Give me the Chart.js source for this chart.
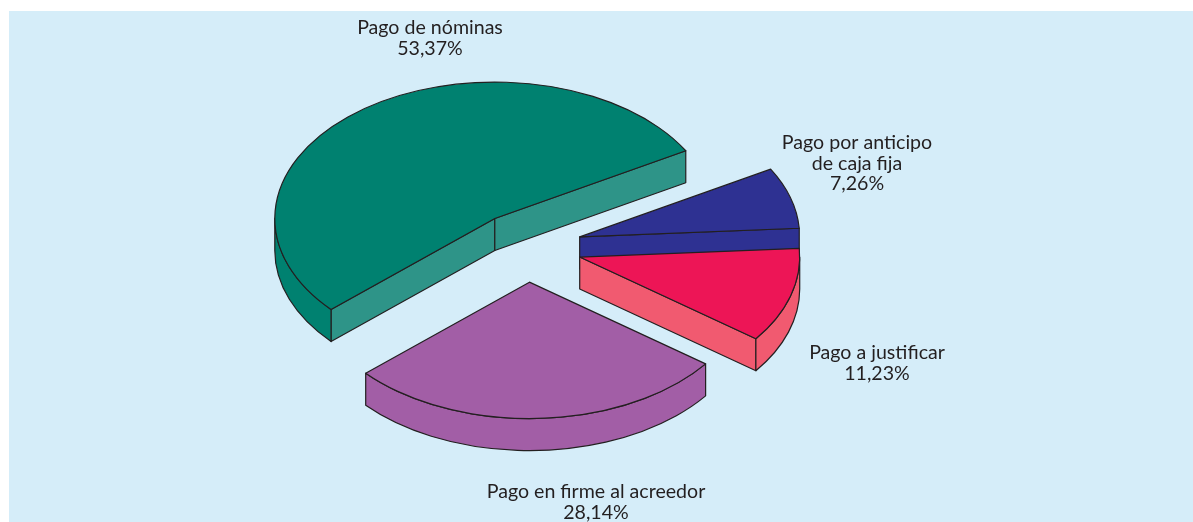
<!DOCTYPE html>
<html>
<head>
<meta charset="utf-8">
<script src="https://cdn.jsdelivr.net/npm/chart.js@4.4.1/dist/chart.umd.min.js"></script>
<style>
  body { margin: 0; background: #fff; }
  #wrap { position: relative; width: 1193px; height: 522px; overflow: hidden; }
  #bg { position: absolute; left: 9px; top: 11px; right: 0; bottom: 0; background: #d5edf9; }
  canvas { position: absolute; left: 0; top: 0; }
</style>
</head>
<body>
<div id="wrap">
  <div id="bg"></div>
  <canvas id="pie" width="1193" height="522"></canvas>
</div>
<script>
// data
const categories = ['Pago de nóminas', 'Pago por anticipo de caja fija', 'Pago a justificar', 'Pago en firme al acreedor'];
const shares = [53.37, 7.26, 11.23, 28.14];
// how each label is broken into lines
const labelLines = [['Pago de nóminas'], ['Pago por anticipo', 'de caja fija'], ['Pago a justificar'], ['Pago en firme al acreedor']];

// looks
const topColors = ['#008170', '#2e3192', '#ed1556', '#a25ea6'];
const wallColors = ['#2e9488', '#2e3192', '#f15a70', '#a25ea6'];
const rimColors = ['#008170', '#2e3192', '#f15a70', '#a25ea6'];
const labelPos = [[430, 34], [857, 149], [877, 359], [596, 498]];
const lineColor = '#231f20';
const squash = 0.62;   // ellipse height / width
const depth = 32;      // thickness of the pie in px
const explode = 55;    // how far slices are pulled out
const explodeY = 0.64; // vertical share of the pull

const pctText = v => v.toFixed(2).replace('.', ',') + '%';

const pie3d = {
  id: 'pie3d',
  beforeDatasetsDraw(chart) {
    const ctx = chart.ctx;
    const arcs = chart.getDatasetMeta(0).data;
    let order = arcs.map((a, i) => i);
    order.sort((i, j) => {
      let mi = (arcs[i].startAngle + arcs[i].endAngle) / 2;
      let mj = (arcs[j].startAngle + arcs[j].endAngle) / 2;
      return Math.sin(mi) - Math.sin(mj);
    });

    ctx.save();
    ctx.lineWidth = 1.2;
    ctx.strokeStyle = lineColor;
    ctx.lineJoin = 'round';

    order.forEach(i => {
      const arc = arcs[i];
      const s = arc.startAngle, e = arc.endAngle, R = arc.outerRadius;
      const mid = (s + e) / 2;
      const cx = arc.x + Math.cos(mid) * explode;
      const cy = arc.y + Math.sin(mid) * explode * explodeY;
      const px = t => cx + Math.cos(t) * R;
      const py = t => cy + Math.sin(t) * R * squash;

      // flat side walls along the cuts
      const wall = t => {
        ctx.beginPath();
        ctx.moveTo(cx, cy);
        ctx.lineTo(px(t), py(t));
        ctx.lineTo(px(t), py(t) + depth);
        ctx.lineTo(cx, cy + depth);
        ctx.closePath();
        ctx.fillStyle = wallColors[i];
        ctx.fill();
        ctx.stroke();
      };
      if (Math.cos(s) < 0) wall(s);
      if (Math.cos(e) > 0) wall(e);

      // curved rim, only the part that faces us
      for (let k = -1; k <= 2; k++) {
        const lo = Math.max(s, 2 * Math.PI * k);
        const hi = Math.min(e, Math.PI + 2 * Math.PI * k);
        if (hi <= lo) continue;
        ctx.beginPath();
        ctx.ellipse(cx, cy, R, R * squash, 0, lo, hi);
        ctx.lineTo(px(hi), py(hi) + depth);
        ctx.ellipse(cx, cy + depth, R, R * squash, 0, hi, lo, true);
        ctx.closePath();
        ctx.fillStyle = rimColors[i];
        ctx.fill();
        ctx.stroke();
      }

      // top face drawn by the chart's own arc element
      ctx.save();
      ctx.translate(cx, cy);
      ctx.scale(1, squash);
      ctx.translate(-arc.x, -arc.y);
      arc.draw(ctx);
      ctx.restore();

      ctx.beginPath();
      ctx.moveTo(cx, cy);
      ctx.ellipse(cx, cy, R, R * squash, 0, s, e);
      ctx.closePath();
      ctx.stroke();
    });
    ctx.restore();
    return false;
  },
  afterDraw(chart) {
    const ctx = chart.ctx;
    ctx.save();
    ctx.fillStyle = lineColor;
    ctx.font = '19.6px Lato';
    ctx.textAlign = 'center';
    ctx.textBaseline = 'alphabetic';
    labelLines.forEach((lines, i) => {
      const all = lines.concat([pctText(shares[i])]);
      all.forEach((txt, k) => {
        ctx.fillText(txt, labelPos[i][0], labelPos[i][1] + k * 20.5);
      });
    });
    ctx.restore();
  }
};

new Chart(document.getElementById('pie'), {
  type: 'pie',
  data: {
    labels: categories,
    datasets: [{
      data: shares,
      backgroundColor: topColors,
      borderWidth: 0,
      offset: 0,
      clip: false
    }]
  },
  options: {
    responsive: false,
    animation: false,
    events: [],
    rotation: 228.1,
    radius: 220,
    layout: { padding: { left: 0, right: 139, top: 0, bottom: 28 } },
    plugins: {
      legend: { display: false },
      tooltip: { enabled: false }
    }
  },
  plugins: [pie3d]
});
</script>
</body>
</html>
